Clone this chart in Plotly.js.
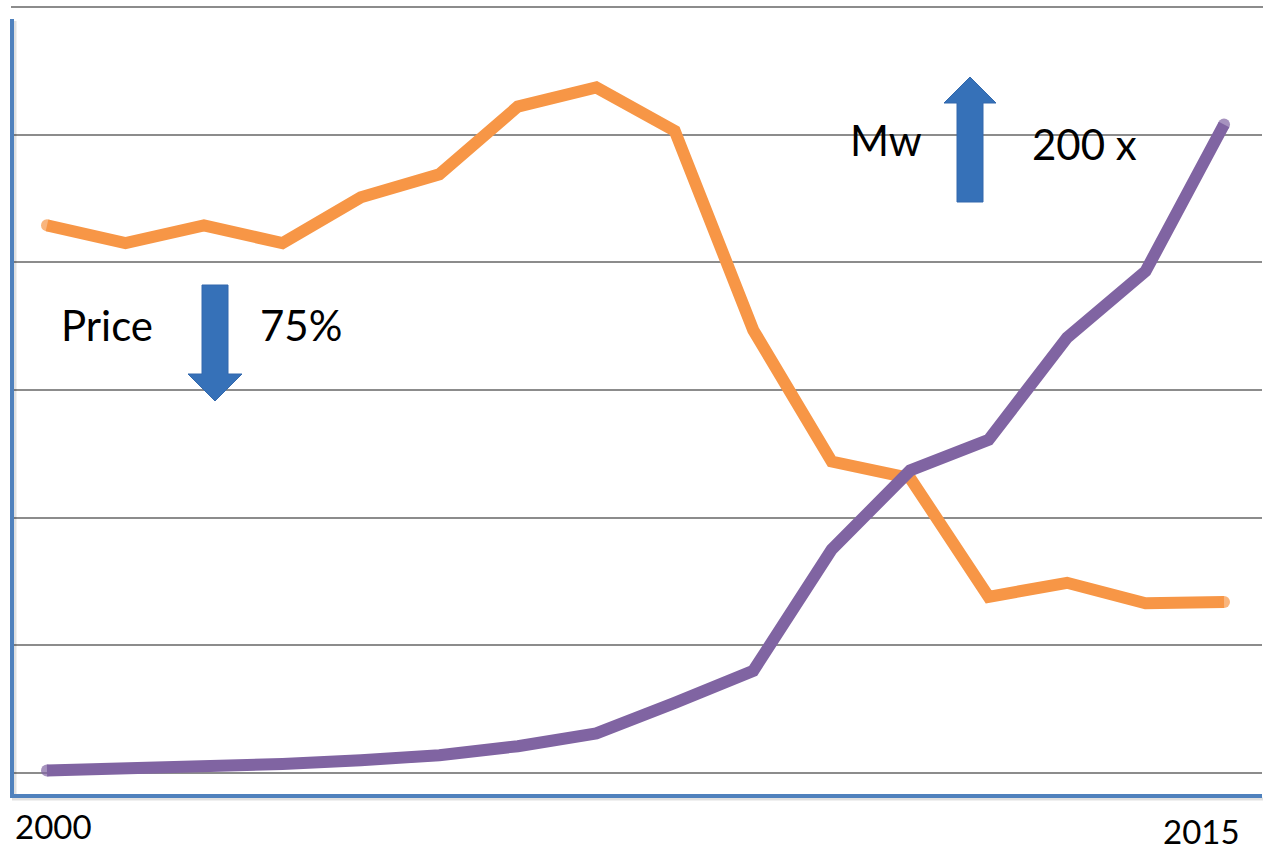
<!DOCTYPE html>
<html>
<head>
<meta charset="utf-8">
<script src="https://cdn.plot.ly/plotly-3.0.1.min.js"></script>
<style>html,body{margin:0;padding:0;background:#fff;}#chart{width:1268px;height:854px;}</style>
</head>
<body>
<div id="chart"></div>
<script>
// Data (arbitrary index units, gridline step = 1)
const years = [2000, 2001, 2002, 2003, 2004, 2005, 2006, 2007, 2008, 2009, 2010, 2011, 2012, 2013, 2014, 2015];
const price = [4.29, 4.15, 4.29, 4.15, 4.51, 4.69, 5.22, 5.37, 5.03, 3.47, 2.44, 2.31, 1.38, 1.49, 1.33, 1.34];
const mw = [0.02, 0.03, 0.05, 0.07, 0.10, 0.14, 0.21, 0.31, 0.55, 0.80, 1.75, 2.37, 2.61, 3.41, 3.93, 5.08];
const xLabels = ['2000', '2015'];
const notes = ['Price', '75%', 'Mw', '200 x'];

// layout geometry (pixels of the 1268x854 page)
const L = 12, R = 1262, T = 7, B = 796;
const W = R - L, H = B - T;
const px = x => (x - L) / W;
const py = y => (B - y) / H;

function arrowPath(pts) {
  return 'M ' + pts.map(p => px(p[0]) + ',' + py(p[1])).join(' L ') + ' Z';
}

const downArrow = arrowPath([[202,285],[228,285],[228,374],[242,374],[215,401],[188,374],[202,374]]);
const upArrow = arrowPath([[957,202],[983,202],[983,103],[996,103],[970,77],[944,103],[957,103]]);

const font = 'Lato, "Open Sans", "DejaVu Sans", sans-serif';
const capSizes = arr => arr.map((v, i) => (i === 0 || i === arr.length - 1) ? 12 : 0);

const traces = [
  {x: years, y: price, type: 'scatter', mode: 'lines+markers', name: 'Price',
   line: {color: '#F79646', width: 12, shape: 'linear'},
   marker: {color: '#F79646', size: capSizes(price), line: {width: 0}}, hoverinfo: 'skip'},
  {x: years, y: mw, type: 'scatter', mode: 'lines+markers', name: 'Mw',
   line: {color: '#8064A2', width: 12, shape: 'linear'},
   marker: {color: '#8064A2', size: capSizes(mw), line: {width: 0}}, hoverinfo: 'skip'}
];

const layout = {
  width: 1268, height: 854,
  margin: {l: L, r: 1268 - R, t: T, b: 854 - B, pad: 0},
  paper_bgcolor: '#ffffff', plot_bgcolor: '#ffffff',
  showlegend: false,
  xaxis: {range: [1999.554, 2015.484], showgrid: false, zeroline: false,
          showticklabels: false, ticks: '', showline: false, fixedrange: true},
  yaxis: {range: [-0.18, 6], dtick: 1, tick0: 0, showgrid: true, gridcolor: '#8c8c8c',
          gridwidth: 2, zeroline: false, showticklabels: false, ticks: '',
          showline: false, fixedrange: true},
  shapes: [
    // top gridline (at the plot edge)
    {type: 'line', xref: 'paper', yref: 'paper', x0: px(11), x1: px(1263), y0: py(7), y1: py(7),
     line: {color: '#8c8c8c', width: 2}, layer: 'below'},
    // axis shadows
    {type: 'line', xref: 'paper', yref: 'paper', x0: px(15), x1: px(15), y0: py(798), y1: py(21),
     line: {color: 'rgba(0,0,0,0.12)', width: 3}},
    {type: 'line', xref: 'paper', yref: 'paper', x0: px(12), x1: px(1263), y0: py(799), y1: py(799),
     line: {color: 'rgba(0,0,0,0.12)', width: 3}},
    // axes
    {type: 'line', xref: 'paper', yref: 'paper', x0: 0, x1: 0, y0: 0, y1: py(19),
     line: {color: '#4F81BD', width: 4}},
    {type: 'line', xref: 'paper', yref: 'paper', x0: px(10), x1: 1, y0: 0, y1: 0,
     line: {color: '#4F81BD', width: 4}},
    // arrows
    {type: 'path', xref: 'paper', yref: 'paper', path: downArrow,
     fillcolor: '#3671B8', line: {color: '#3369AD', width: 1}},
    {type: 'path', xref: 'paper', yref: 'paper', path: upArrow,
     fillcolor: '#3671B8', line: {color: '#3369AD', width: 1}}
  ],
  annotations: [
    {text: notes[0], xref: 'paper', yref: 'paper', x: px(107), y: py(325), xanchor: 'center', yanchor: 'middle',
     showarrow: false, font: {family: font, size: 42, color: '#000'}},
    {text: notes[1], xref: 'paper', yref: 'paper', x: px(301), y: py(325), xanchor: 'center', yanchor: 'middle',
     showarrow: false, font: {family: font, size: 42, color: '#000'}},
    {text: notes[2], xref: 'paper', yref: 'paper', x: px(886), y: py(140), xanchor: 'center', yanchor: 'middle',
     showarrow: false, font: {family: font, size: 42, color: '#000'}},
    {text: notes[3], xref: 'paper', yref: 'paper', x: px(1084), y: py(144), xanchor: 'center', yanchor: 'middle',
     showarrow: false, font: {family: font, size: 42, color: '#000'}},
    {text: xLabels[0], xref: 'paper', yref: 'paper', x: px(53), y: py(826), xanchor: 'center', yanchor: 'middle',
     showarrow: false, font: {family: font, size: 33, color: '#000'}},
    {text: xLabels[1], xref: 'paper', yref: 'paper', x: px(1201), y: py(831), xanchor: 'center', yanchor: 'middle',
     showarrow: false, font: {family: font, size: 33, color: '#000'}}
  ]
};

Plotly.newPlot('chart', traces, layout, {staticPlot: true, displayModeBar: false});
</script>
</body>
</html>
